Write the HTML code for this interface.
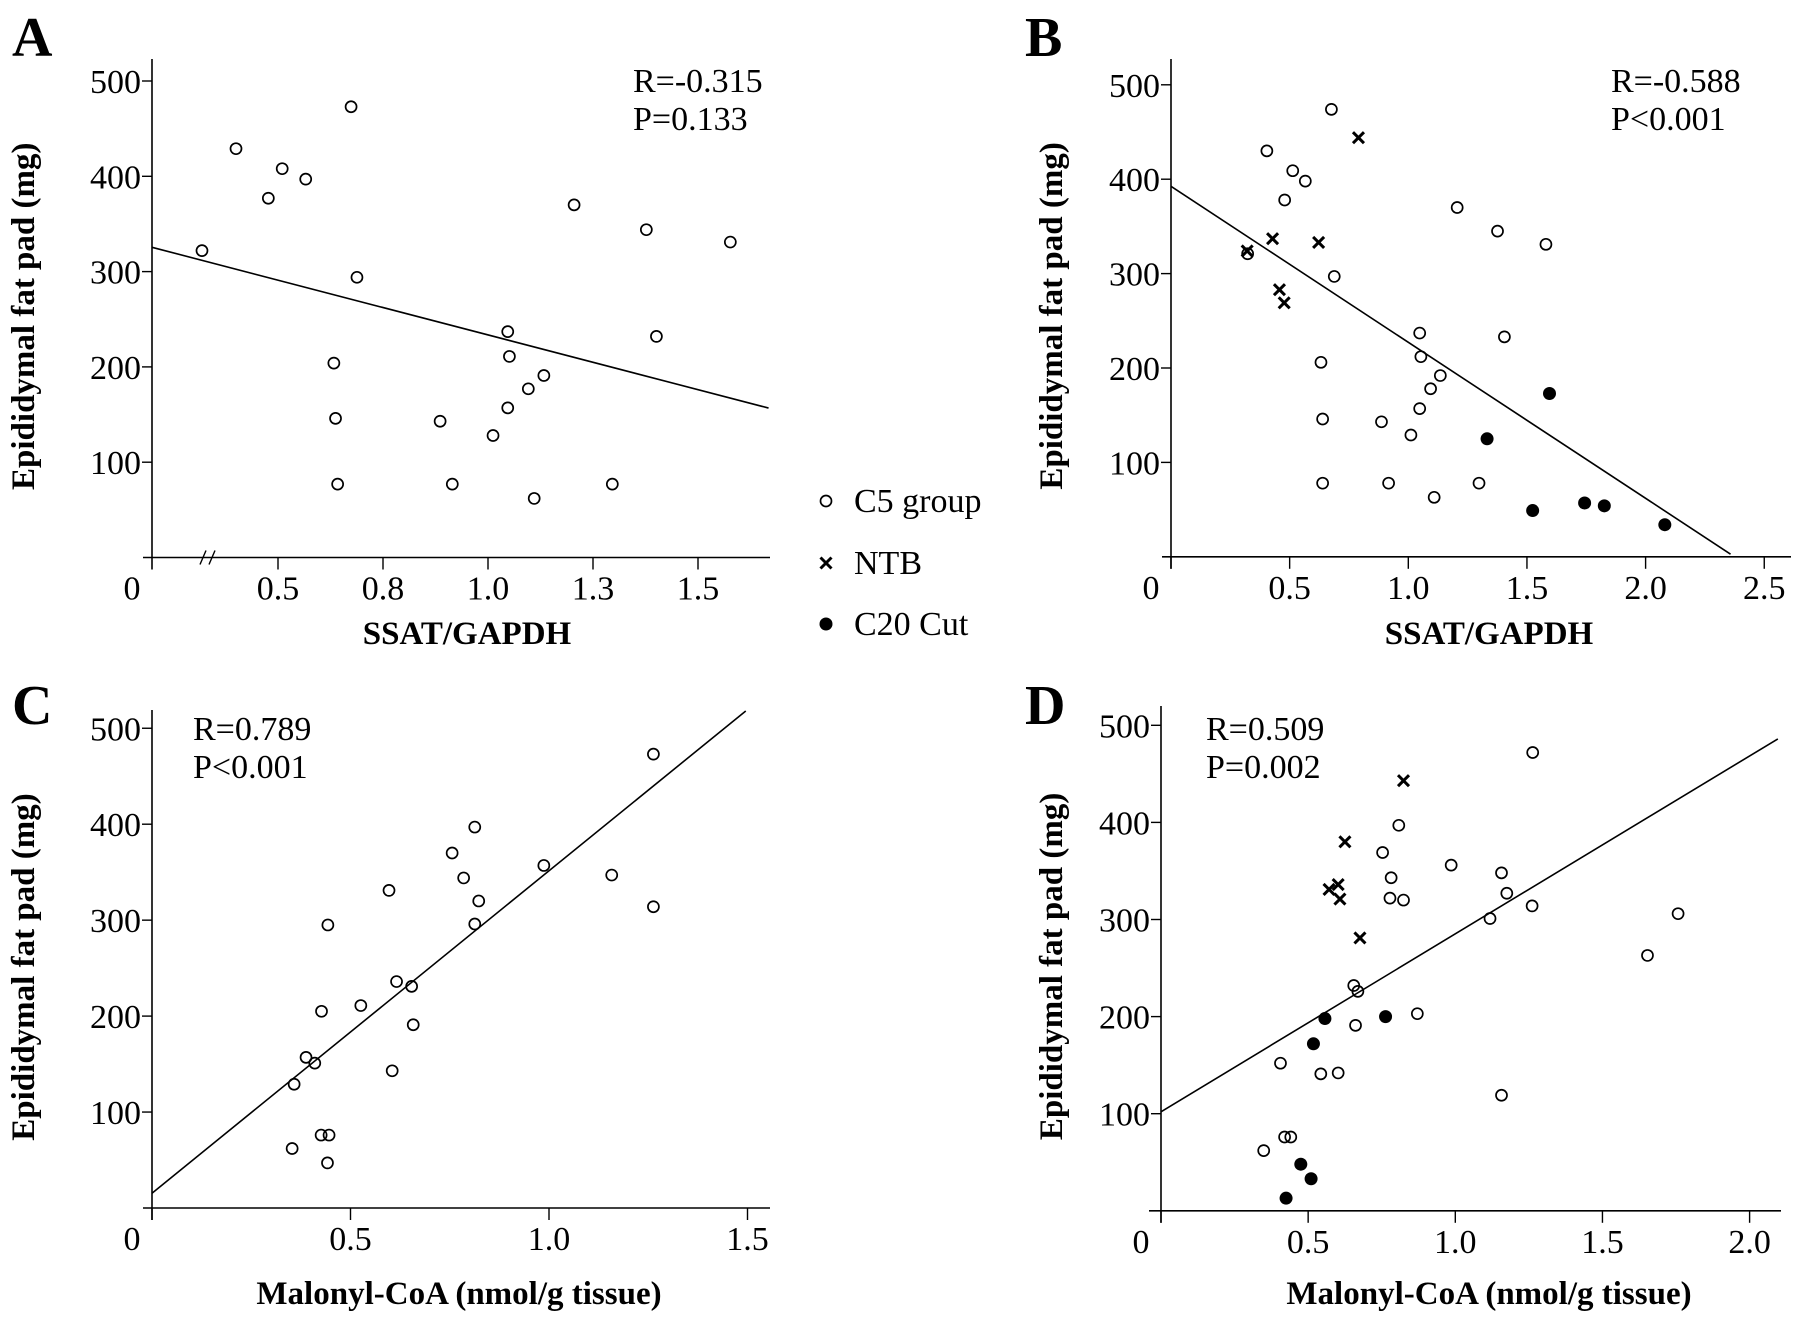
<!DOCTYPE html>
<html><head><meta charset="utf-8"><style>
html,body{margin:0;padding:0;background:#fff;}
svg{display:block;font-family:"Liberation Serif",serif;}
</style></head><body>
<svg id="fig" width="1795" height="1317" viewBox="0 0 1795 1317" xmlns="http://www.w3.org/2000/svg"></svg>
<script>
// ---- Panel A data (SSAT/GAPDH vs fat pad, C5 group) ----
const aCircX=[0.319,0.400,0.477,0.510,0.566,0.674,0.688,0.633,0.637,0.642,0.886,0.915,1.012,1.047,1.051,1.047,1.096,1.133,1.110,1.205,1.296,1.377,1.401,1.577];
const aCircY=[322,429,377,408,397,473,294,204,146,77,143,77,128,237,211,157,177,191,62,370,77,344,232,331];
const aLine=[[0.2,325.5],[1.668,156.8]];
const aXTicks=[0.5,0.75,1.0,1.25,1.5];
const aXLabels=["0.5","0.8","1.0","1.3","1.5"];
// ---- Panel B data ----
const bCircX=[0.323,0.404,0.513,0.566,0.479,0.676,0.688,0.632,0.639,0.639,0.887,0.917,1.011,1.048,1.053,1.048,1.094,1.135,1.109,1.206,1.298,1.376,1.405,1.580];
const bCircY=[321,430,409,398,378,474,297,206,146,78,143,78,129,237,212,157,178,192,63,370,78,345,233,331];
const bCrossX=[0.321,0.428,0.622,0.790,0.457,0.477];
const bCrossY=[324,337,333,444,283,269];
const bFillX=[1.595,1.332,1.524,1.743,1.826,2.081];
const bFillY=[173,125,49,57,54,34];
const bLine=[[0,392.5],[2.358,2.8]];
const bXTicks=[0,0.5,1.0,1.5,2.0,2.5];
const bXLabels=["","0.5","1.0","1.5","2.0","2.5"];
// ---- Panel C data ----
const cCircX=[1.263,0.813,0.756,0.987,1.158,0.785,0.597,0.823,1.263,0.813,0.443,0.616,0.654,0.526,0.427,0.658,0.388,0.410,0.605,0.358,0.426,0.446,0.353,0.442];
const cCircY=[473,397,370,357,347,344,331,320,314,296,295,236,231,211,205,191,157,151,143,129,76,76,62,47];
const cLine=[[0,15.4],[1.4956,518]];
const cXTicks=[0,0.5,1.0,1.5];
const cXLabels=["","0.5","1.0","1.5"];
// ---- Panel D data ----
const dCircX=[1.263,0.808,0.753,0.986,1.157,0.782,0.778,0.824,1.175,1.261,1.118,1.757,1.653,0.655,0.669,0.871,0.661,0.406,0.543,0.602,1.157,0.420,0.441,0.349];
const dCircY=[472,397,369,356,348,343,322,320,327,314,301,306,263,232,226,203,191,152,141,142,119,76,76,62];
const dCrossX=[0.824,0.625,0.571,0.602,0.608,0.676];
const dCrossY=[443,380,331,336,321,281];
const dFillX=[0.557,0.763,0.518,0.475,0.510,0.425];
const dFillY=[198,200,172,48,33,13];
const dLine=[[0,102],[2.096,486]];
const dXTicks=[0,0.5,1.0,1.5,2.0];
const dXLabels=["","0.5","1.0","1.5","2.0"];
const yTicks=[100,200,300,400,500];
const yLabels=["100","200","300","400","500"];

const NS="http://www.w3.org/2000/svg";
const svg=document.getElementById('fig');
function mk(tag,attrs,parent){const e=document.createElementNS(NS,tag);for(const k in attrs)e.setAttribute(k,attrs[k]);(parent||svg).appendChild(e);return e;}

function panel(cfg){
  const g=mk('g',{});
  
  
  const X=v=>cfg.ax+(v-cfg.xmin)*cfg.xs;
  const Y=v=>cfg.y0-v*cfg.ys;
  const ya=mk('line',{x1:cfg.ax,y1:cfg.ytop,x2:cfg.ax,y2:cfg.y0+12,stroke:'#000','stroke-width':1.6},g);
  
  
  const xa=mk('line',{x1:cfg.xstart,y1:cfg.y0,x2:cfg.xend,y2:cfg.y0,stroke:'#000','stroke-width':1.6},g);
  
  
  yTicks.forEach((v,i)=>{
    mk('line',{x1:cfg.ax-10,y1:Y(v),x2:cfg.ax,y2:Y(v),stroke:'#000','stroke-width':1.4},g);
    const t=mk('text',{x:cfg.ax-11,y:Y(v)+12,'font-size':34,'text-anchor':'end'},g);
    t.textContent=yLabels[i];
    
    
  });
  cfg.xt.forEach((v,i)=>{
    mk('line',{x1:X(v),y1:cfg.y0,x2:X(v),y2:cfg.y0+12,stroke:'#000','stroke-width':1.4},g);
    if(cfg.xl[i]){
      const t=mk('text',{x:X(v),y:cfg.y0+42,'font-size':34,'text-anchor':'middle'},g);
      t.textContent=cfg.xl[i];
      
      
    }
  });
  const z=mk('text',{x:cfg.ax-20,y:cfg.y0+42,'font-size':34,'text-anchor':'middle'},g);
  z.textContent='0';
  
  
  if(cfg.brk){
    mk('line',{x1:cfg.brk-8,y1:cfg.y0+7,x2:cfg.brk-2,y2:cfg.y0-7,stroke:'#000','stroke-width':1.4},g);
    mk('line',{x1:cfg.brk+1,y1:cfg.y0+7,x2:cfg.brk+7,y2:cfg.y0-7,stroke:'#000','stroke-width':1.4},g);
  }
  const lt=mk('text',{x:cfg.lx,y:cfg.ly,'font-size':56,'font-weight':'bold'},g);
  lt.textContent=cfg.id.toUpperCase();
  
  
  const yt=mk('text',{x:0,y:0,'font-size':33,'font-weight':'bold','text-anchor':'middle',transform:`translate(${cfg.ytx},${(cfg.ytop+cfg.y0)/2+8}) rotate(-90)`,'xml:space':'preserve'},g);
  yt.textContent='Epididymal fat pad  (mg)';
  
  
  const xt=mk('text',{x:cfg.xtx,y:cfg.xty,'font-size':33,'font-weight':'bold','text-anchor':'middle'},g);
  xt.textContent=cfg.xtitle;
  
  
  const r=mk('text',{x:cfg.rx,y:cfg.ry,'font-size':34},g);
  r.textContent=cfg.r;
  
  
  const p=mk('text',{x:cfg.rx,y:cfg.ry+38,'font-size':34},g);
  p.textContent=cfg.p;
  
  
  const ln=mk('line',{x1:X(cfg.line[0][0]),y1:Y(cfg.line[0][1]),x2:X(cfg.line[1][0]),y2:Y(cfg.line[1][1]),stroke:'#000','stroke-width':1.6},g);
  
  
  cfg.cx.forEach((v,i)=>{
    const c=mk('circle',{cx:X(v),cy:Y(cfg.cy[i]),r:5.5,fill:'none',stroke:'#000','stroke-width':1.7},g);
    
    
  });
  (cfg.xx||[]).forEach((v,i)=>{
    const px=X(v),py=Y(cfg.xy[i]);
    const c=mk('path',{d:`M${px-5.5},${py-5.5}L${px+5.5},${py+5.5}M${px+5.5},${py-5.5}L${px-5.5},${py+5.5}`,stroke:'#000','stroke-width':3},g);
    
    
  });
  (cfg.fx||[]).forEach((v,i)=>{
    const c=mk('circle',{cx:X(v),cy:Y(cfg.fy[i]),r:6.5,fill:'#000'},g);
    
    
  });
}

panel({id:'a',ax:152,xmin:0.2,xs:420,y0:557.5,ys:0.953,ytop:59,xstart:143,xend:770,brk:208,xt:aXTicks,xl:aXLabels,
  lx:12,ly:56,ytx:34,xtx:467,xty:644,xtitle:'SSAT/GAPDH',rx:633,ry:92,r:'R=-0.315',p:'P=0.133',line:aLine,cx:aCircX,cy:aCircY});
panel({id:'b',ax:1171,xmin:0,xs:237.3,y0:556.8,ys:0.944,ytop:59,xstart:1162,xend:1791,xt:bXTicks,xl:bXLabels,
  lx:1025,ly:56,ytx:1062,xtx:1489,xty:644,xtitle:'SSAT/GAPDH',rx:1611,ry:92,r:'R=-0.588',p:'P<0.001',line:bLine,
  cx:bCircX,cy:bCircY,xx:bCrossX,xy:bCrossY,fx:bFillX,fy:bFillY});
panel({id:'c',ax:152,xmin:0,xs:397,y0:1208,ys:0.9595,ytop:710,xstart:143,xend:770,xt:cXTicks,xl:cXLabels,
  lx:12,ly:724,ytx:34,xtx:459,xty:1304,xtitle:'Malonyl-CoA (nmol/g tissue)',rx:193,ry:740,r:'R=0.789',p:'P<0.001',line:cLine,cx:cCircX,cy:cCircY});
panel({id:'d',ax:1161,xmin:0,xs:294.3,y0:1210.8,ys:0.971,ytop:706,xstart:1149,xend:1781,xt:dXTicks,xl:dXLabels,
  lx:1025,ly:724,ytx:1062,xtx:1489,xty:1304,xtitle:'Malonyl-CoA (nmol/g tissue)',rx:1206,ry:740,r:'R=0.509',p:'P=0.002',line:dLine,
  cx:dCircX,cy:dCircY,xx:dCrossX,xy:dCrossY,fx:dFillX,fy:dFillY});

const lg=mk('g',{});


const l1=mk('circle',{cx:826,cy:501,r:5.5,fill:'none',stroke:'#000','stroke-width':1.7},lg);


const l2=mk('path',{d:'M820.5,557.5L831.5,568.5M831.5,557.5L820.5,568.5',stroke:'#000','stroke-width':3},lg);


const l3=mk('circle',{cx:826,cy:624,r:6.5,fill:'#000'},lg);


[['C5 group',512],['NTB',574],['C20 Cut',635]].forEach(([s,y])=>{
  const t=mk('text',{x:854,y:y,'font-size':34},lg);
  t.textContent=s;
  
  
});
</script>
</body></html>
